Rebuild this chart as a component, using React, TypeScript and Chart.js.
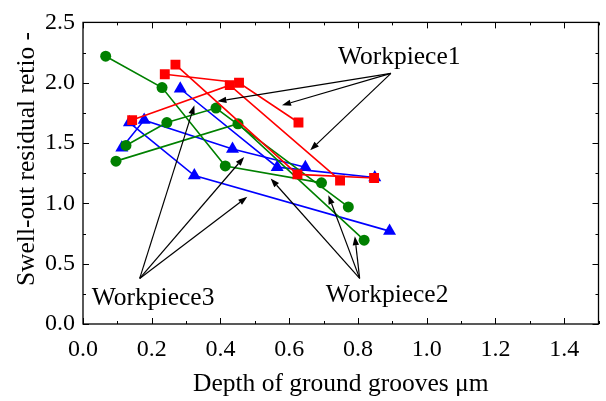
import React, { useEffect, useRef } from 'react';
import { Chart, registerables } from 'chart.js';

Chart.register(...registerables);

// Axis ticks
const xTickValues = [0, 0.2, 0.4, 0.6, 0.8, 1.0, 1.2, 1.4];
const xMinorValues = [0.1, 0.3, 0.5, 0.7, 0.9, 1.1, 1.3, 1.5];
const yTickValues = [0, 0.5, 1.0, 1.5, 2.0, 2.5];
const yMinorValues = [0.25, 0.75, 1.25, 1.75, 2.25];

// Workpiece1 (red squares)
const wp1aX = [0.143, 0.427, 0.748];
const wp1aY = [1.69, 1.98, 1.19];
const wp1bX = [0.238, 0.454, 0.627];
const wp1bY = [2.07, 2.0, 1.67];
const wp1cX = [0.269, 0.624, 0.847];
const wp1cY = [2.15, 1.24, 1.21];

// Workpiece2 (green circles)
const wp2aX = [0.066, 0.23, 0.414, 0.694];
const wp2aY = [2.22, 1.96, 1.31, 1.17];
const wp2bX = [0.125, 0.244, 0.387, 0.772];
const wp2bY = [1.48, 1.67, 1.79, 0.97];
const wp2cX = [0.096, 0.451, 0.818];
const wp2cY = [1.35, 1.66, 0.695];

// Workpiece3 (blue triangles)
const wp3aX = [0.113, 0.178, 0.435, 0.647];
const wp3aY = [1.46, 1.69, 1.45, 1.3];
const wp3bX = [0.135, 0.324, 0.892];
const wp3bY = [1.67, 1.23, 0.77];
const wp3cX = [0.283, 0.565, 0.849];
const wp3cY = [1.95, 1.3, 1.215];

// Annotations (data coordinates)
const labelTexts = ['Workpiece1', 'Workpiece2', 'Workpiece3'];
const labelX = [0.92, 0.885, 0.204];
const labelY = [2.21, 0.24, 0.215];
const arrowFromX = [0.896, 0.805, 0.165];
const arrowFromY = [2.078, 0.378, 0.378];
const arrowTipsX = [
  [0.391, 0.579, 0.661],
  [0.546, 0.714, 0.791],
  [0.324, 0.469, 0.478],
];
const arrowTipsY = [
  [1.846, 1.813, 1.44],
  [1.206, 1.068, 0.728],
  [1.813, 1.385, 1.054],
];

const yTitle = 'Swell-out residual retio -';
const xTitle = 'Depth of ground grooves μm';

const SERIF = '"Liberation Serif", "Times New Roman", serif';

const toPts = (xs: number[], ys: number[]) => xs.map((x, i) => ({ x, y: ys[i] }));

const mk = (xs: number[], ys: number[], color: string, style: string, radius: number) => ({
  data: toPts(xs, ys),
  showLine: true,
  borderColor: color,
  backgroundColor: color,
  borderWidth: 1.6,
  pointStyle: style,
  pointRadius: radius,
  pointBorderWidth: 0,
  pointBackgroundColor: color,
  pointBorderColor: color,
  tension: 0,
});

const framePlugin = {
  id: 'frameTicks',
  afterDatasetsDraw(chart: any) {
    const { ctx, chartArea: a, scales } = chart;
    const xs = scales.x;
    const ys = scales.y;
    ctx.save();
    ctx.strokeStyle = '#000';
    ctx.lineWidth = 1.3;
    ctx.strokeRect(a.left, a.top, a.right - a.left, a.bottom - a.top);
    ctx.lineWidth = 1;
    const drawX = (v: number, len: number) => {
      const p = Math.round(xs.getPixelForValue(v)) + 0.5;
      ctx.beginPath();
      ctx.moveTo(p, a.bottom);
      ctx.lineTo(p, a.bottom - len);
      ctx.moveTo(p, a.top);
      ctx.lineTo(p, a.top + len);
      ctx.stroke();
    };
    const drawY = (v: number, len: number) => {
      const p = Math.round(ys.getPixelForValue(v)) + 0.5;
      ctx.beginPath();
      ctx.moveTo(a.left, p);
      ctx.lineTo(a.left + len, p);
      ctx.moveTo(a.right, p);
      ctx.lineTo(a.right - len, p);
      ctx.stroke();
    };
    xTickValues.forEach((v) => drawX(v, 6));
    xMinorValues.forEach((v) => drawX(v, 3));
    yTickValues.forEach((v) => drawY(v, 6));
    yMinorValues.forEach((v) => drawY(v, 3));

    // annotations
    ctx.fillStyle = '#000';
    ctx.strokeStyle = '#000';
    ctx.font = `25.5px ${SERIF}`;
    ctx.textAlign = 'center';
    ctx.textBaseline = 'middle';
    labelTexts.forEach((t, i) => {
      ctx.fillText(t, xs.getPixelForValue(labelX[i]), ys.getPixelForValue(labelY[i]));
    });
    ctx.lineWidth = 1.2;
    labelTexts.forEach((_, i) => {
      const fx = xs.getPixelForValue(arrowFromX[i]);
      const fy = ys.getPixelForValue(arrowFromY[i]);
      arrowTipsX[i].forEach((tx0, j) => {
        const tx = xs.getPixelForValue(tx0);
        const ty = ys.getPixelForValue(arrowTipsY[i][j]);
        const ang = Math.atan2(ty - fy, tx - fx);
        const hl = 9;
        const hw = 3.2;
        const bx = tx - hl * Math.cos(ang);
        const by = ty - hl * Math.sin(ang);
        ctx.beginPath();
        ctx.moveTo(fx, fy);
        ctx.lineTo(bx, by);
        ctx.stroke();
        ctx.beginPath();
        ctx.moveTo(tx, ty);
        ctx.lineTo(bx - hw * Math.sin(ang), by + hw * Math.cos(ang));
        ctx.lineTo(bx + hw * Math.sin(ang), by - hw * Math.cos(ang));
        ctx.closePath();
        ctx.fill();
      });
    });

    // y-axis title
    ctx.translate(27, 159);
    ctx.rotate(-Math.PI / 2);
    ctx.fillText(yTitle, 0, 0);
    ctx.restore();
  },
};

export default function App() {
  const ref = useRef<HTMLCanvasElement | null>(null);
  useEffect(() => {
    document.body.style.margin = '0';
    document.body.style.background = '#fff';
    const canvas = ref.current;
    if (!canvas) return;
    const tickFont = { family: SERIF, size: 24 };
    const chart = new Chart(canvas, {
      type: 'scatter',
      data: {
        datasets: [
          mk(wp1aX, wp1aY, '#ff0000', 'rect', 7),
          mk(wp1bX, wp1bY, '#ff0000', 'rect', 7),
          mk(wp1cX, wp1cY, '#ff0000', 'rect', 7),
          mk(wp2aX, wp2aY, '#008000', 'circle', 5.5),
          mk(wp2bX, wp2bY, '#008000', 'circle', 5.5),
          mk(wp2cX, wp2cY, '#008000', 'circle', 5.5),
          mk(wp3aX, wp3aY, '#0000ff', 'triangle', 7.5),
          mk(wp3bX, wp3bY, '#0000ff', 'triangle', 7.5),
          mk(wp3cX, wp3cY, '#0000ff', 'triangle', 7.5),
        ] as any,
      },
      options: {
        animation: false,
        responsive: false,
        maintainAspectRatio: false,
        layout: { padding: { top: 22, right: 4, left: 0, bottom: 0 } },
        plugins: { legend: { display: false }, tooltip: { enabled: false } },
        scales: {
          x: {
            type: 'linear',
            min: 0,
            max: 1.5,
            grid: { display: false, drawTicks: false },
            border: { display: false },
            ticks: {
              color: '#000',
              font: tickFont,
              padding: 11,
              maxRotation: 0,
              callback: (v: any) => Number(v).toFixed(1),
            },
            afterBuildTicks: (s: any) => {
              s.ticks = xTickValues.map((v) => ({ value: v }));
            },
            afterFit: (s: any) => {
              s.height = 77;
            },
            title: {
              display: true,
              text: xTitle,
              color: '#000',
              font: { family: SERIF, size: 25.5 },
              padding: { top: 0, bottom: 1 },
            },
          },
          y: {
            type: 'linear',
            min: 0,
            max: 2.5,
            grid: { display: false, drawTicks: false },
            border: { display: false },
            ticks: {
              color: '#000',
              font: tickFont,
              padding: 8,
              callback: (v: any) => Number(v).toFixed(1),
            },
            afterBuildTicks: (s: any) => {
              s.ticks = yTickValues.map((v) => ({ value: v }));
            },
            afterFit: (s: any) => {
              s.width = 83;
            },
            title: { display: false },
          },
        },
      } as any,
      plugins: [framePlugin],
    });
    return () => chart.destroy();
  }, []);
  return <canvas ref={ref} width={606} height={401} style={{ display: 'block' }} />;
}
